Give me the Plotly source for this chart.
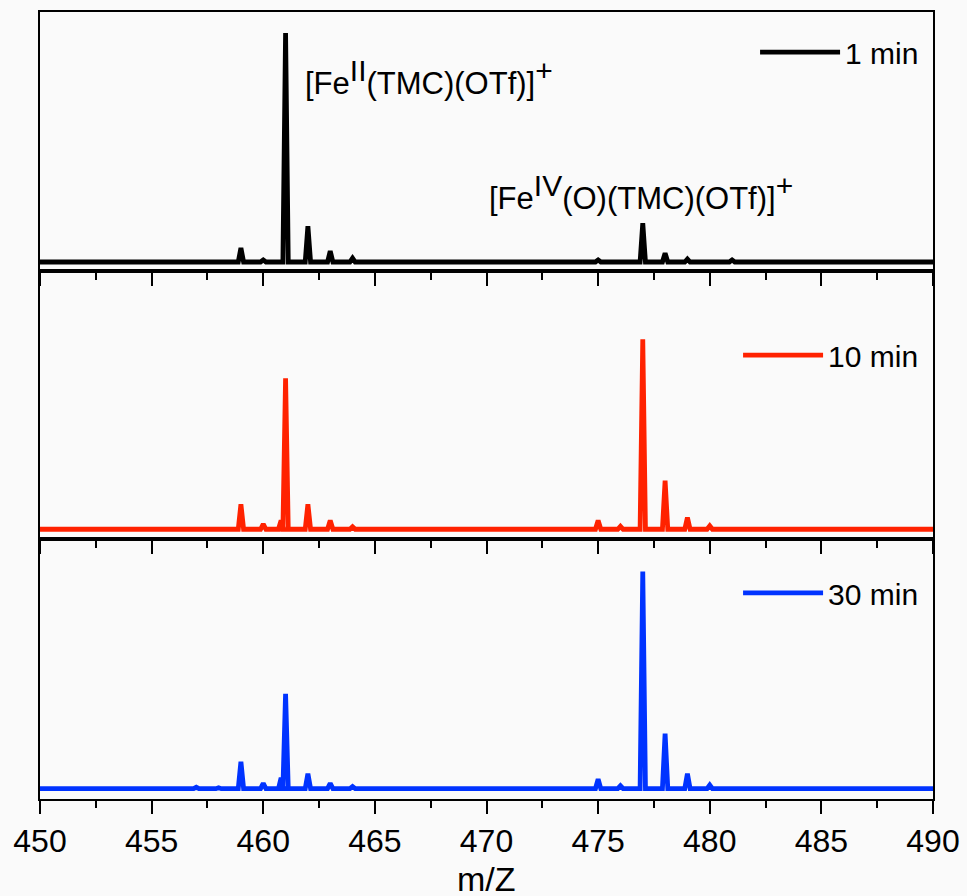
import plotly.graph_objects as go

# ---- data ----
peak_mz = [457, 458, 459, 460, 460.8, 461, 462, 463, 464, 474.5, 475, 476, 477, 478, 479, 480, 481]
int_1min = [0, 0, 6.1, 0.9, 0, 100, 15.7, 4.8, 1.7, 0, 0.9, 0, 17.0, 3.9, 1.3, 0.4, 0.9]
int_10min = [0.5, 0, 10.9, 2.2, 3.8, 65.9, 10.9, 3.9, 1.1, 0, 3.8, 1.3, 83.0, 21.2, 5.1, 1.5, 0]
int_30min = [0.6, 0.4, 11.8, 2.3, 4.8, 41.4, 6.6, 2.3, 0.9, 0.5, 4.2, 1.3, 94.8, 24.0, 6.6, 1.6, 0.5]
series_names = ["1 min", "10 min", "30 min"]
series_colors = ["#000000", "#ff2200", "#0033ff"]
x_min, x_max = 450, 490
tick_vals = [450, 455, 460, 465, 470, 475, 480, 485, 490]
x_title = "m/Z"
peak_halfwidth = 0.12


def stick_profile(centers, heights):
    xs, ys = [x_min], [0]
    for c, h in zip(centers, heights):
        if h <= 0:
            continue
        xs += [c - peak_halfwidth, c, c + peak_halfwidth]
        ys += [0, h, 0]
    xs.append(x_max)
    ys.append(0)
    return xs, ys


FONT = "Liberation Sans, Arial, sans-serif"
fig = go.Figure()

intensities = [int_1min, int_10min, int_30min]
xaxes = ["x", "x2", "x3"]
yaxes = ["y", "y2", "y3"]
legends = ["legend", "legend2", "legend3"]
for name, color, ints, xa, ya, lg in zip(series_names, series_colors, intensities, xaxes, yaxes, legends):
    xs, ys = stick_profile(peak_mz, ints)
    fig.add_trace(go.Scatter(x=xs, y=ys, mode="lines", name=name,
                             line=dict(color=color, width=4.8, shape="linear"),
                             xaxis=xa, yaxis=ya, legend=lg, showlegend=True))

# panel geometry (plot area fraction)
domains = [[0.6709, 1.0], [0.3304, 0.6709], [0.0, 0.3304]]
yranges = [[-3.93, 109.2], [-4.24, 112.8], [-4.5, 109.0]]

common_x = dict(range=[x_min, x_max], showline=True, linecolor="black", linewidth=2,
                mirror=True, ticks="outside", ticklen=13, tickwidth=2, tickcolor="black",
                tickvals=tick_vals, showgrid=False, zeroline=False, automargin=False,
                minor=dict(ticks="outside", ticklen=7, tickwidth=2, tickcolor="black",
                           dtick=2.5, showgrid=False))
common_y = dict(showline=True, linecolor="black", linewidth=2, mirror=True, automargin=False,
                ticks="", showticklabels=False, showgrid=False, zeroline=False)

layout = dict(
    width=967, height=896,
    margin=dict(l=40, r=34, t=12, b=97, autoexpand=False),
    paper_bgcolor="#fafafa", plot_bgcolor="#fafafa",
    font=dict(family=FONT, color="black", size=30),
)
for i, (xa, ya) in enumerate(zip(xaxes, yaxes)):
    xkey = "xaxis" if i == 0 else f"xaxis{i+1}"
    ykey = "yaxis" if i == 0 else f"yaxis{i+1}"
    xd = dict(common_x, anchor=ya, domain=[0, 1])
    if i < 2:
        xd["showticklabels"] = False
    else:
        xd["showticklabels"] = True
        xd["tickfont"] = dict(size=32, family=FONT)
    if i > 0:
        xd["matches"] = "x"
    layout[xkey] = xd
    layout[ykey] = dict(common_y, anchor=xa, domain=domains[i], range=yranges[i])

leg_common = dict(bgcolor="rgba(0,0,0,0)", borderwidth=0, font=dict(size=30, family=FONT),
                  xanchor="right", yanchor="middle", itemwidth=80, tracegroupgap=0)
layout["legend"] = dict(leg_common, x=0.99, y=0.949)
layout["legend2"] = dict(leg_common, x=0.99, y=0.564)
layout["legend3"] = dict(leg_common, x=0.99, y=0.262)

fig.update_layout(**layout)

# x-axis title (placed as paper annotation under the bottom panel)
fig.add_annotation(x=0.5, y=-0.102, xref="paper", yref="paper", xanchor="center", yanchor="middle",
                   text=x_title, showarrow=False, borderpad=0,
                   font=dict(size=34, family=FONT, color="black"))

SUP = '<sup><span style="font-size:30px">{}</span></sup>'
fig.add_annotation(x=461.78, y=80.5, xref="x", yref="y", xanchor="left", yanchor="middle",
                   text="[Fe" + SUP.format("II") + "(TMC)(OTf)]" + SUP.format("+"), showarrow=False,
                   font=dict(size=31, family=FONT, color="black"))
fig.add_annotation(x=470.0, y=30.5, xref="x", yref="y", xanchor="left", yanchor="middle",
                   text="[Fe" + SUP.format("IV") + "(O)(TMC)(OTf)]" + SUP.format("+"), showarrow=False,
                   font=dict(size=31, family=FONT, color="black"))

fig.write_html("out.html")
